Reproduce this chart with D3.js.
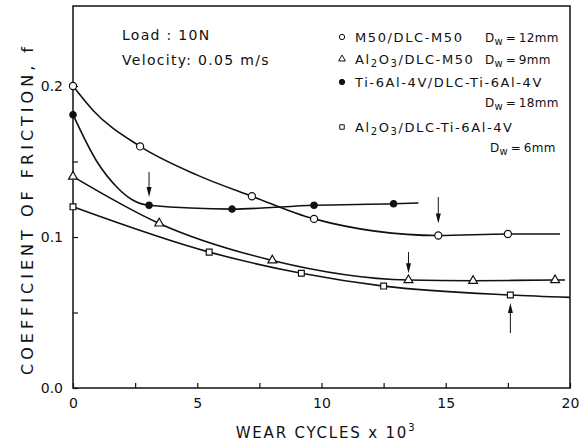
<!DOCTYPE html>
<html>
<head>
<meta charset="utf-8">
<script src="https://cdn.jsdelivr.net/npm/d3@7"></script>
<style>
  body { margin: 0; background: #fff; }
  svg { display: block; font-family: "DejaVu Sans", sans-serif; }
  .axis path { display: none; }
  .axis line { stroke: #111; stroke-width: 1.2; }
  .axis text { font-size: 14px; fill: #111; font-family: "DejaVu Sans", sans-serif; }
</style>
</head>
<body>
<div id="chart"></div>
<script>
// marker values (x = wear cycles x10^3, y = friction coeff.)
var m50X = [0, 2.7, 7.2, 9.7, 14.7, 17.5];
var m50Y = [0.200, 0.160, 0.127, 0.112, 0.101, 0.102];
var alm50X = [0, 3.47, 8.02, 13.5, 16.1, 19.4];
var alm50Y = [0.140, 0.109, 0.0845, 0.0715, 0.071, 0.0715];
var tiX = [0, 3.06, 6.4, 9.7, 12.9];
var tiY = [0.181, 0.121, 0.1185, 0.121, 0.122];
var altiX = [0, 5.48, 9.19, 12.5, 17.6];
var altiY = [0.120, 0.090, 0.076, 0.0675, 0.0616];

// drawn curves (as traced, incl. where each line stops)
var m50CurveX = [0, 0.8, 2.7, 5.0, 7.2, 9.7, 14.7, 17.5, 19.6];
var m50CurveY = [0.200, 0.184, 0.160, 0.141, 0.127, 0.112, 0.101, 0.102, 0.102];
var alm50CurveX = [0, 3.47, 8.02, 13.5, 16.1, 19.4, 19.8];
var alm50CurveY = [0.140, 0.109, 0.0845, 0.0715, 0.071, 0.0715, 0.0715];
var tiCurveX = [0, 0.96, 1.77, 2.4, 3.06, 6.4, 9.7, 12.9, 13.9];
var tiCurveY = [0.181, 0.150, 0.133, 0.1245, 0.121, 0.1185, 0.121, 0.122, 0.1225];
var altiCurveX = [0, 5.48, 9.19, 12.5, 17.6, 20];
var altiCurveY = [0.120, 0.090, 0.076, 0.0675, 0.0616, 0.060];

// arrows marking where the wear scar was measured
var arrowX = [3.06, 14.7, 13.5, 17.6];
var arrowFrom = [0.143, 0.1265, 0.090, 0.0364];
var arrowTo = [0.1265, 0.109, 0.076, 0.0563];

var xTicks = [0, 2.5, 5, 7.5, 10, 12.5, 15, 17.5, 20];
var yTicks = [0, 0.05, 0.1, 0.15, 0.2];

var width = 580, height = 447;
var margin = {top: 6, right: 10, bottom: 59, left: 73};

var xScale = d3.scaleLinear().domain([0, 20]).range([margin.left, width - margin.right]);
var yScale = d3.scaleLinear().domain([0, 0.253]).range([height - margin.bottom, margin.top]);

var svg = d3.select("#chart").append("svg")
    .attr("width", width)
    .attr("height", height);

function zip(xs, ys) {
    return xs.map(function(x, i) { return {x: x, y: ys[i]}; });
}

// frame
svg.append("rect")
    .attr("x", xScale(0))
    .attr("y", yScale(0.253))
    .attr("width", xScale(20) - xScale(0))
    .attr("height", yScale(0) - yScale(0.253))
    .attr("fill", "none")
    .attr("stroke", "#111")
    .attr("stroke-width", 1.5);

svg.append("g")
    .attr("class", "axis")
    .attr("transform", "translate(0," + yScale(0) + ")")
    .call(d3.axisBottom(xScale)
        .tickValues(xTicks)
        .tickSizeInner(-5)
        .tickSizeOuter(0)
        .tickPadding(10)
        .tickFormat(function(d) { return d % 5 === 0 ? d : ""; }));

svg.append("g")
    .attr("class", "axis")
    .attr("transform", "translate(" + xScale(0) + ",0)")
    .call(d3.axisLeft(yScale)
        .tickValues(yTicks)
        .tickSizeInner(-5)
        .tickSizeOuter(0)
        .tickPadding(10)
        .tickFormat(function(d) { return Math.round(d * 100) % 10 === 0 ? d3.format(".1f")(d) : ""; }));

// axis titles
svg.append("text")
    .attr("x", 326)
    .attr("y", 438)
    .attr("text-anchor", "middle")
    .attr("font-size", 15)
    .attr("letter-spacing", 1.8)
    .attr("fill", "#111")
    .text("WEAR CYCLES x 10")
    .append("tspan")
    .attr("dy", -7)
    .attr("font-size", 10)
    .text("3");

svg.append("text")
    .attr("transform", "translate(33,211) rotate(-90)")
    .attr("text-anchor", "middle")
    .attr("font-size", 16)
    .attr("textLength", 328)
    .attr("lengthAdjust", "spacing")
    .attr("fill", "#111")
    .text("COEFFICIENT OF FRICTION, f");

// curves
var line = d3.line()
    .x(function(d) { return xScale(d.x); })
    .y(function(d) { return yScale(d.y); })
    .curve(d3.curveMonotoneX);

[[m50CurveX, m50CurveY], [alm50CurveX, alm50CurveY], [tiCurveX, tiCurveY], [altiCurveX, altiCurveY]]
    .forEach(function(c) {
        svg.append("path")
            .datum(zip(c[0], c[1]))
            .attr("fill", "none")
            .attr("stroke", "#111")
            .attr("stroke-width", 1.6)
            .attr("d", line);
    });

// markers
var symCircle = d3.symbol().type(d3.symbolCircle).size(40);
var symTri = d3.symbol().type(d3.symbolTriangle).size(34);
var symDot = d3.symbol().type(d3.symbolCircle).size(32);
var symSquare = d3.symbol().type(d3.symbolSquare).size(34);

function drawMarks(xs, ys, sym, filled) {
    svg.selectAll(null)
        .data(zip(xs, ys))
        .enter().append("path")
        .attr("transform", function(d) { return "translate(" + xScale(d.x) + "," + yScale(d.y) + ")"; })
        .attr("d", sym)
        .attr("fill", filled ? "#111" : "#fff")
        .attr("stroke", "#111")
        .attr("stroke-width", 1.2);
}
drawMarks(m50X, m50Y, symCircle, false);
drawMarks(alm50X, alm50Y, symTri, false);
drawMarks(tiX, tiY, symDot, true);
drawMarks(altiX, altiY, symSquare, false);

// arrows
arrowX.forEach(function(x, i) {
    var px = xScale(x), y0 = yScale(arrowFrom[i]), y1 = yScale(arrowTo[i]);
    var dir = y1 > y0 ? 1 : -1;
    svg.append("line")
        .attr("x1", px).attr("x2", px)
        .attr("y1", y0).attr("y2", y1 - dir * 8)
        .attr("stroke", "#111")
        .attr("stroke-width", 1);
    svg.append("path")
        .attr("d", "M" + (px - 2.5) + "," + (y1 - dir * 10) + "L" + (px + 2.5) + "," + (y1 - dir * 10) + "L" + px + "," + y1 + "Z")
        .attr("fill", "#111");
});

// test conditions
var notes = svg.append("g")
    .attr("font-size", 14)
    .attr("letter-spacing", 1.3)
    .attr("fill", "#111");
notes.append("text").attr("x", 122).attr("y", 40).text("Load : 10N");
notes.append("text").attr("x", 122).attr("y", 65).text("Velocity: 0.05 m/s");

// legend
var legend = svg.append("g")
    .attr("font-size", 13)
    .attr("letter-spacing", 1.6)
    .attr("fill", "#111");

function legendMark(y, sym, filled) {
    legend.append("path")
        .attr("transform", "translate(342," + y + ")")
        .attr("d", sym)
        .attr("fill", filled ? "#111" : "#fff")
        .attr("stroke", "#111")
        .attr("stroke-width", 1);
}
function addText(x, y, parts, small) {
    var t = legend.append("text").attr("x", x).attr("y", y);
    if (small) t.attr("font-size", 12).attr("letter-spacing", 0.3);
    parts.forEach(function(p) {
        var s = t.append("tspan").text(p[0]);
        if (p[1] === "sub") s.attr("baseline-shift", "-30%").attr("font-size", 10);
    });
}
function dw(x, y, val) {
    addText(x, y, [["D"], ["w", "sub"], ["\u2009=\u2009" + val]], true);
}

legendMark(37, d3.symbol().type(d3.symbolCircle).size(22), false);
addText(355, 42, [["M50/DLC-M50"]]);
dw(485, 42, "12mm");

legendMark(59, d3.symbol().type(d3.symbolTriangle).size(20), false);
addText(355, 64, [["Al"], ["2", "sub"], ["O"], ["3", "sub"], ["/DLC-M50"]]);
dw(485, 64, "9mm");

legendMark(82, d3.symbol().type(d3.symbolCircle).size(22), true);
addText(355, 87, [["Ti-6Al-4V/DLC-Ti-6Al-4V"]]);
dw(485, 107, "18mm");

legendMark(127, d3.symbol().type(d3.symbolSquare).size(20), false);
addText(355, 132, [["Al"], ["2", "sub"], ["O"], ["3", "sub"], ["/DLC-Ti-6Al-4V"]]);
dw(490, 152, "6mm");
</script>
</body>
</html>
